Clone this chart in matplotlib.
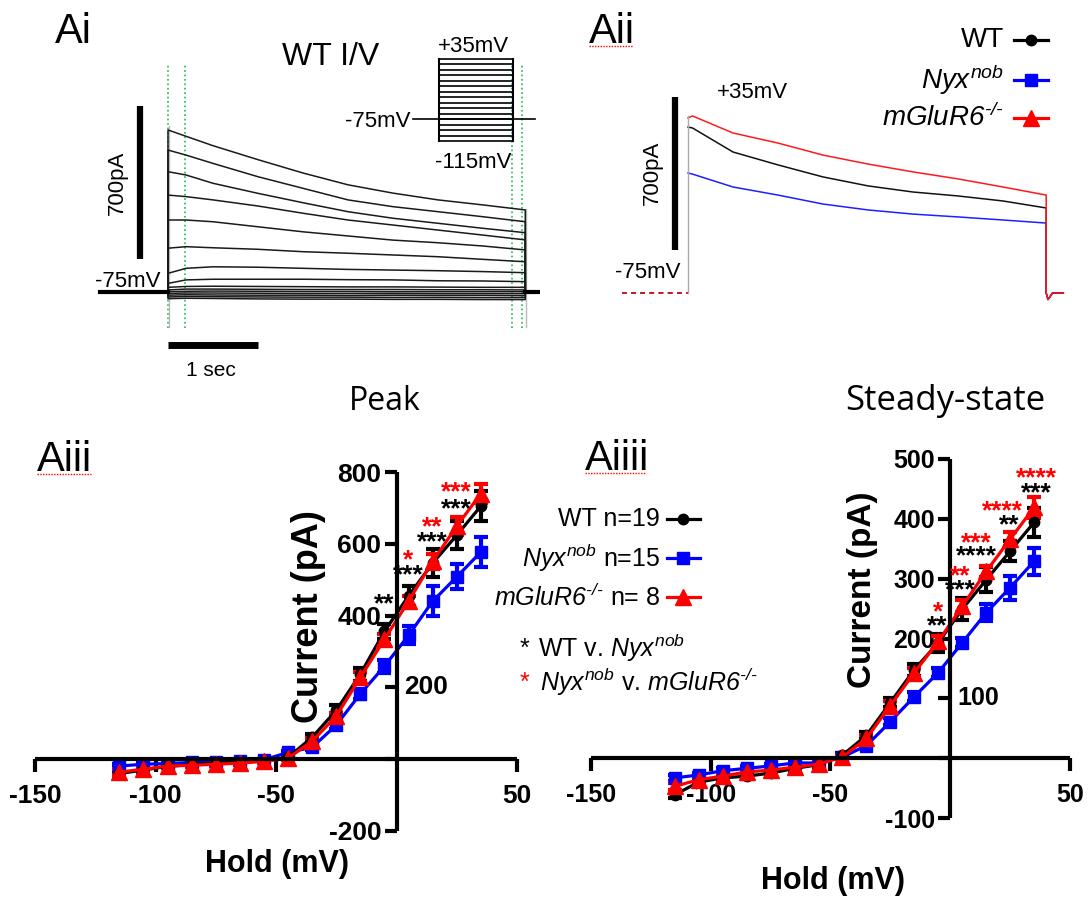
import matplotlib
matplotlib.use('Agg')
import matplotlib.pyplot as plt

W, H = 1090, 901

plt.rcParams['font.family'] = ['Liberation Sans', 'DejaVu Sans']
plt.rcParams['mathtext.fontset'] = 'custom'
plt.rcParams['mathtext.rm'] = 'Liberation Sans:italic'
plt.rcParams['mathtext.it'] = 'Liberation Sans:italic'
plt.rcParams['mathtext.bf'] = 'Liberation Sans:bold'

# ---- I/V data ----
hold_mv = [-115, -105, -95, -85, -75, -65, -55, -45, -35, -25, -15, -5, 5, 15, 25, 35]

peak_wt = [-40, -30, -20, -15, -11, -8, -4, 5, 61, 136, 237, 356, 455, 546, 624, 705]
peak_wt_err = [8, 6, 5, 5, 4, 4, 4, 5, 10, 14, 18, 20, 27, 39, 39, 42]
peak_nyx = [-19, -14, -12, -9, -7, -5, -2, 19, 33, 95, 182, 259, 345, 440, 508, 577]
peak_nyx_err = [6, 5, 4, 4, 4, 3, 3, 5, 8, 10, 14, 18, 25, 42, 35, 42]
peak_mglur = [-36, -28, -19, -17, -14, -11, -6, 3, 50, 120, 228, 334, 440, 551, 649, 740]
peak_mglur_err = [8, 6, 5, 5, 4, 4, 4, 5, 8, 10, 14, 16, 15, 20, 25, 27]

steady_wt = [-61, -40, -33, -30, -25, -17, -11, 5, 38, 93, 148, 193, 249, 298, 346, 394]
steady_wt_err = [6, 5, 5, 5, 4, 4, 3, 3, 5, 8, 10, 15, 18, 21, 17, 24]
steady_nyx = [-33, -28, -21, -17, -13, -8, -8, 2, 21, 61, 103, 143, 193, 243, 285, 329]
steady_nyx_err = [5, 4, 4, 4, 3, 3, 3, 3, 4, 6, 8, 8, 8, 14, 20, 23]
steady_mglur = [-47, -36, -30, -23, -20, -15, -10, 2, 33, 88, 143, 195, 254, 312, 366, 419]
steady_mglur_err = [6, 5, 5, 4, 4, 3, 3, 3, 5, 7, 8, 10, 10, 10, 12, 17]

# significance stars: (mV, pA, text)
peak_stars_black = [(-5, 454, '**'), (5, 535, '***'), (15, 627, '***'), (25, 719, '***'), (35, 808, '***')]
peak_stars_red = [(5, 577, '*'), (15, 669, '**'), (25, 766, '***'), (35, 858, '***')]
steady_stars_black = [(-5.4, 235, '**'), (4.2, 295, '***'), (11, 352, '****'), (24.6, 403, '**'), (36, 457, '***')]
steady_stars_red = [(-5, 257, '*'), (4, 318, '**'), (11, 373, '***'), (22, 427, '****'), (36, 482, '****')]

# ---- example traces (pA vs s), read at a few time points ----
trace_t = [0, 0.2, 0.5, 1.0, 1.5, 2.0, 2.5, 3.0, 3.5, 3.97]
wt_traces = [
    [740, 711, 668, 604, 543, 489, 451, 420, 397, 374],
    [648, 625, 587, 526, 473, 420, 389, 366, 343, 320],
    [549, 534, 496, 450, 407, 366, 336, 313, 290, 270],
    [442, 435, 420, 392, 359, 328, 305, 282, 259, 237],
    [328, 328, 320, 297, 274, 255, 236, 224, 209, 191],
    [199, 206, 201, 194, 183, 176, 168, 160, 148, 137],
    [84, 107, 114, 112, 107, 102, 99, 96, 92, 87],
    [38, 54, 57, 57, 57, 55, 54, 50, 49, 46],
    [20, 24, 25, 24, 23, 22, 22, 21, 20, 20],
    [8, 12, 12, 11, 10, 10, 10, 9, 9, 8],
    [0, 2, 3, 2, 1, 1, 0, 0, 0, 0],
    [-8, -6, -6, -7, -8, -8, -8, -9, -9, -9],
    [-16, -14, -15, -16, -16, -17, -16, -17, -17, -18],
    [-24, -22, -23, -24, -25, -25, -26, -26, -27, -27],
    [-32, -30, -31, -33, -34, -34, -35, -35, -36, -36],
]
cmp_t = [0, 0.05, 0.5, 1.0, 1.5, 2.0, 2.5, 3.0, 3.5, 3.98]
cmp_wt = [759, 755, 645, 586, 531, 490, 462, 444, 421, 389]
cmp_nyx = [549, 544, 485, 448, 407, 380, 361, 348, 334, 320]
cmp_mglur = [801, 810, 732, 686, 631, 590, 554, 522, 485, 448]

BLACK, BLUE, RED = '#000000', '#0000ff', '#ff0000'
GREEN = '#1db954'

fig = plt.figure(figsize=(W / 100, H / 100), dpi=100)


def box(x0, y0, x1, y1):
    # pixel box (top-left origin) -> figure fraction rect
    return [x0 / W, 1 - y1 / H, (x1 - x0) / W, (y1 - y0) / H]


# ===== Ai : WT I/V family =====
ax_i = fig.add_axes(box(95, 40, 540, 380))
ax_i.set_xlim((95 - 168) / 90, (540 - 168) / 90)
ax_i.set_ylim((291.7 - 380) * 4.575, (291.7 - 40) * 4.575)
ax_i.axis('off')
for v in [0, 0.19, 3.82, 3.93]:
    ax_i.plot([v, v], [-166, 1046], color=GREEN, lw=1.2, ls=':', zorder=1)
ax_i.plot([0.01, 0.01], [-160, 760], color='#bbbbbb', lw=1, zorder=1)
ax_i.plot([3.98, 3.98], [-160, 380], color='#bbbbbb', lw=1, zorder=1)
for tr in wt_traces:
    ax_i.plot([-0.76, 0] + trace_t + [3.97, 4.13], [0, 0] + tr + [0, 0],
              color='#1a1a1a', lw=1.1, zorder=2)
ax_i.plot([-0.76, 0], [0, 0], color='black', lw=3, zorder=3)
ax_i.plot([3.97, 4.13], [0, 0], color='black', lw=3, zorder=3)
ax_i.plot([-0.311, -0.311], [150, 850], color='black', lw=4.5, solid_capstyle='butt')
ax_i.plot([0, 1], [-244, -244], color='black', lw=5, solid_capstyle='butt', clip_on=False)

# voltage protocol inset
ax_p = fig.add_axes(box(413, 59, 535, 141))
ax_p.set_xlim(0, 1)
ax_p.set_ylim(-115, 35)
ax_p.axis('off')
bx0, bx1 = (439 - 413) / 122, (513 - 413) / 122
for v in hold_mv:
    ax_p.plot([bx0, bx1], [v, v], color='black', lw=1.2, clip_on=False)
ax_p.plot([bx0, bx0], [-115, 35], color='black', lw=1.5, clip_on=False)
ax_p.plot([bx1, bx1], [-115, 35], color='black', lw=1.5, clip_on=False)
ax_p.plot([0, 1], [-75, -75], color='black', lw=1.2, clip_on=False)

# ===== Aii : example traces =====
ax_ii = fig.add_axes(box(600, 60, 1080, 330))
ax_ii.set_xlim((600 - 688) / 90, (1080 - 688) / 90)
ax_ii.set_ylim((293 - 330) * 4.575, (293 - 60) * 4.575)
ax_ii.axis('off')
for tr, c in [(cmp_nyx, '#1f1fff'), (cmp_wt, '#111111'), (cmp_mglur, '#ff1a1a')]:
    ax_ii.plot(cmp_t + [3.98, 4.0, 4.05, 4.17], tr + [0, -30, 0, 0], color=c, lw=1.1)
    ax_ii.plot([-0.73, 0], [0, 0], color=c, lw=1.1, ls=(0, (3, 3)))
ax_ii.plot([0, 0], [0, 810], color='#aaaaaa', lw=1)
ax_ii.plot([-0.144, -0.144], [197, 897], color='black', lw=4.5, solid_capstyle='butt')


# ===== Aiii / Aiiii : I/V curves =====
def iv_axes(rect, ylim, yticks, ylabels, right_tick, stars_b, stars_r, series, tick_fs):
    ax = fig.add_axes(rect)
    ax.set_xlim(-150, 50)
    ax.set_ylim(*ylim)
    for s in ['top', 'right']:
        ax.spines[s].set_visible(False)
    ax.spines['left'].set_position(('data', 0))
    ax.spines['bottom'].set_position(('data', 0))
    for s in ['left', 'bottom']:
        ax.spines[s].set_linewidth(3)
        ax.spines[s].set_capstyle('butt')
    ax.set_xticks([-150, -100, -50, 50])
    ax.set_xticklabels(['-150', '-100', '-50', '50'])
    ax.set_yticks(yticks)
    ax.set_yticklabels(ylabels)
    ax.tick_params(direction='out', length=9, width=3, labelsize=tick_fs, pad=2)
    ax.tick_params(axis='x', pad=9)
    for lab in ax.get_xticklabels() + ax.get_yticklabels():
        lab.set_fontweight('bold')
    ax.text(3, right_tick, str(right_tick), fontsize=tick_fs, fontweight='bold',
            ha='left', va='center')
    for (y, e, c, m, ms) in series:
        ax.errorbar(hold_mv, y, yerr=e, color=c, marker=m, ms=ms, lw=2.3,
                    elinewidth=3, capsize=5, capthick=3, clip_on=False)
    for sx, sy, st in stars_b:
        ax.annotate(st, (sx, sy), xytext=(0, -11), textcoords='offset points',
                    ha='center', va='baseline', fontsize=19, fontweight='bold', color=BLACK)
    for sx, sy, st in stars_r:
        ax.annotate(st, (sx, sy), xytext=(0, -11), textcoords='offset points',
                    ha='center', va='baseline', fontsize=19, fontweight='bold', color=RED)
    return ax


iv_axes(box(35, 472, 517, 831), (-200, 800), [-200, 0, 200, 400, 600, 800],
        ['-200', '', '', '400', '600', '800'], 200, peak_stars_black, peak_stars_red,
        [(peak_nyx, peak_nyx_err, BLUE, 's', 8.5),
         (peak_wt, peak_wt_err, BLACK, 'o', 7.5),
         (peak_mglur, peak_mglur_err, RED, '^', 11)], 19)
iv_axes(box(591, 459, 1070, 818), (-100, 500), [-100, 0, 100, 200, 300, 400, 500],
        ['-100', '', '', '200', '300', '400', '500'], 100, steady_stars_black, steady_stars_red,
        [(steady_nyx, steady_nyx_err, BLUE, 's', 8.5),
         (steady_wt, steady_wt_err, BLACK, 'o', 7.5),
         (steady_mglur, steady_mglur_err, RED, '^', 11)], 18)

# ===== overlay in pixel coordinates for labels and legends =====
ov = fig.add_axes([0, 0, 1, 1], zorder=10)
ov.set_xlim(0, W)
ov.set_ylim(H, 0)
ov.axis('off')
ov.patch.set_alpha(0)

for txt, x, y in [('Ai', 55, 43), ('Aii', 589, 43), ('Aiii', 37, 471), ('Aiiii', 585, 470)]:
    ov.text(x, y, txt, fontsize=30, ha='left', va='baseline')
for x0, x1, y in [(589, 633, 46), (37, 91, 474), (585, 646, 473)]:
    ov.plot([x0, x1], [y, y], color=RED, lw=1, ls=(0, (1, 1)))

ov.text(331, 65, 'WT I/V', fontsize=23, ha='center', va='baseline')
ov.text(473, 52, '+35mV', fontsize=16, ha='center', va='baseline')
ov.text(473, 168, '-115mV', fontsize=16, ha='center', va='baseline')
ov.text(410, 127, '-75mV', fontsize=16, ha='right', va='baseline')
ov.text(161, 287, '-75mV', fontsize=16, ha='right', va='baseline')
ov.text(117, 183, '700pA', fontsize=16, rotation=90, ha='center', va='center')
ov.text(211, 376, '1 sec', fontsize=15, ha='center', va='baseline')

ov.text(752, 98, '+35mV', fontsize=16, ha='center', va='baseline')
ov.text(680, 278, '-75mV', fontsize=16, ha='right', va='baseline')
ov.text(652, 173, '700pA', fontsize=16, rotation=90, ha='center', va='center')

# legends
NYX = r'$\mathit{Nyx}^{\mathit{nob}}$'
MGLUR = r'$\mathit{mGluR6}^{\text{-/-}}$'
leg_names = ['WT', NYX, MGLUR]
leg_n = [' n=19', ' n=15', ' n= 8']
leg_style = [(BLACK, 'o', 7.5), (BLUE, 's', 8.5), (RED, '^', 11)]
for name, (c, m, ms), y in zip(leg_names, leg_style, [40, 80, 118]):
    ov.text(1004, y, name, fontsize=20, ha='right', va='center')
    ov.plot([1014, 1048], [y, y], color=c, lw=2.3)
    ov.plot([1031], [y], color=c, marker=m, ms=ms)
for name, n, (c, m, ms), y in zip(leg_names, leg_n, leg_style, [519, 558, 597]):
    ov.text(660, y, name + n, fontsize=18, ha='right', va='center')
    ov.plot([667, 700], [y, y], color=c, lw=2.3)
    ov.plot([683], [y], color=c, marker=m, ms=ms)
ov.text(520, 656, '*', fontsize=18, color=BLACK, ha='left', va='baseline')
ov.text(538, 648, 'WT v. ' + NYX, fontsize=18, ha='left', va='center')
ov.text(520, 690, '*', fontsize=18, color=RED, ha='left', va='baseline')
ov.text(540, 682, NYX + ' v. ' + MGLUR, fontsize=18, ha='left', va='center')

# titles and axis labels
ov.text(385, 410, 'Peak', fontsize=23, family=['Open Sans', 'DejaVu Sans'], ha='center', va='baseline')
ov.text(945, 410, 'Steady-state', fontsize=25, family=['Open Sans', 'DejaVu Sans'],
        ha='center', va='baseline')
ov.text(308, 617, 'Current (pA)', fontsize=26, fontweight='bold', rotation=90, ha='center', va='center')
ov.text(863, 590, 'Current (pA)', fontsize=24, fontweight='bold', rotation=90, ha='center', va='center')
ov.text(277, 864, 'Hold (mV)', fontsize=22, fontweight='bold', ha='center', va='center')
ov.text(833, 881, 'Hold (mV)', fontsize=22, fontweight='bold', ha='center', va='center')

fig.savefig('out.png', dpi=100)
